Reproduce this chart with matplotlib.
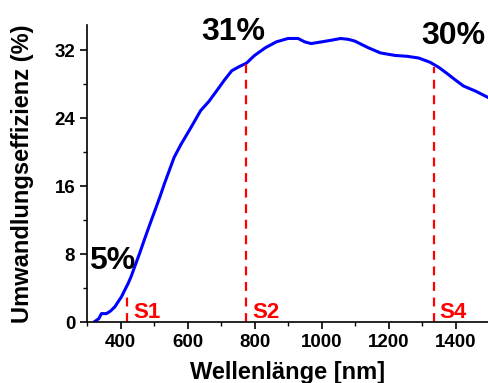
import matplotlib.pyplot as plt
from matplotlib.ticker import MultipleLocator

plt.rcParams['font.family'] = ['Liberation Sans', 'DejaVu Sans']
plt.rcParams['font.weight'] = 'bold'

# Wellenlaenge (nm) und Umwandlungseffizienz (%)
wellenlaenge = [324, 335, 343, 350, 358, 370, 383, 393, 403, 413, 422, 432,
                442, 457, 472, 481, 493, 506, 518, 531, 545, 560, 580, 610,
                639, 664, 690, 710, 732, 755, 776, 800, 832, 865, 900, 930,
                950, 969, 1000, 1030, 1057, 1080, 1099, 1140, 1176, 1220,
                1256, 1290, 1324, 1350, 1374, 1400, 1424, 1460, 1500]
effizienz = [0.1, 0.4, 1.0, 1.0, 1.0, 1.3, 1.8, 2.4, 3.0, 3.8, 4.5, 5.4,
             6.5, 8.1, 9.8, 10.8, 12.1, 13.5, 14.8, 16.3, 17.8, 19.4, 20.9,
             22.9, 24.9, 26.0, 27.4, 28.5, 29.6, 30.1, 30.5, 31.4, 32.3,
             33.0, 33.4, 33.4, 33.0, 32.8, 33.0, 33.2, 33.4, 33.3, 33.1,
             32.3, 31.7, 31.4, 31.3, 31.1, 30.6, 30.0, 29.3, 28.5, 27.8,
             27.2, 26.4]

# Markierungen S1, S2, S4
s_pos = [420, 775, 1335]
s_hoehe = [3.2, 30.4, 30.1]
s_namen = ["S1", "S2", "S4"]

# Prozent-Beschriftungen
prozent_text = ["5%", "31%", "30%"]
prozent_x = [306, 640, 1297]
prozent_y = [6.3, 33.2, 32.7]

fig = plt.figure(figsize=(4.89, 3.83), dpi=100)
ax = fig.add_axes([0.178, 0.159, 0.822, 0.776])

ax.plot(wellenlaenge, effizienz, color='#0000ff', linewidth=2.2)

for xp, h, name in zip(s_pos, s_hoehe, s_namen):
    ax.plot([xp, xp], [0, h], color='#ff0000', linestyle='--', linewidth=1.6,
            dashes=(4, 3))
    ax.text(xp + 18, 0.5, name, color='#ff0000', fontsize=16, fontweight='bold')

for t, xp, yp in zip(prozent_text, prozent_x, prozent_y):
    ax.text(xp, yp, t, fontsize=23, fontweight='bold', color='black')

ax.set_xlim(300, 1500)
ax.set_ylim(0, 35)
ax.xaxis.set_major_locator(MultipleLocator(200))
ax.xaxis.set_minor_locator(MultipleLocator(100))
ax.yaxis.set_major_locator(MultipleLocator(8))
ax.yaxis.set_minor_locator(MultipleLocator(4))
ax.tick_params(axis='both', which='major', labelsize=13.5, length=5, width=1.2,
               direction='out')
ax.tick_params(axis='both', which='minor', length=3, width=1.0, direction='out')
for lab in ax.get_xticklabels() + ax.get_yticklabels():
    lab.set_fontweight('bold')

ax.spines['top'].set_visible(False)
ax.spines['right'].set_visible(False)
ax.spines['left'].set_linewidth(1.2)
ax.spines['bottom'].set_linewidth(1.2)

ax.set_xlabel("Wellenlänge [nm]", fontsize=17, fontweight='bold', labelpad=7)
ax.set_ylabel("Umwandlungseffizienz (%)", fontsize=17, fontweight='bold',
              labelpad=15)

fig.savefig("out.png", dpi=100)
